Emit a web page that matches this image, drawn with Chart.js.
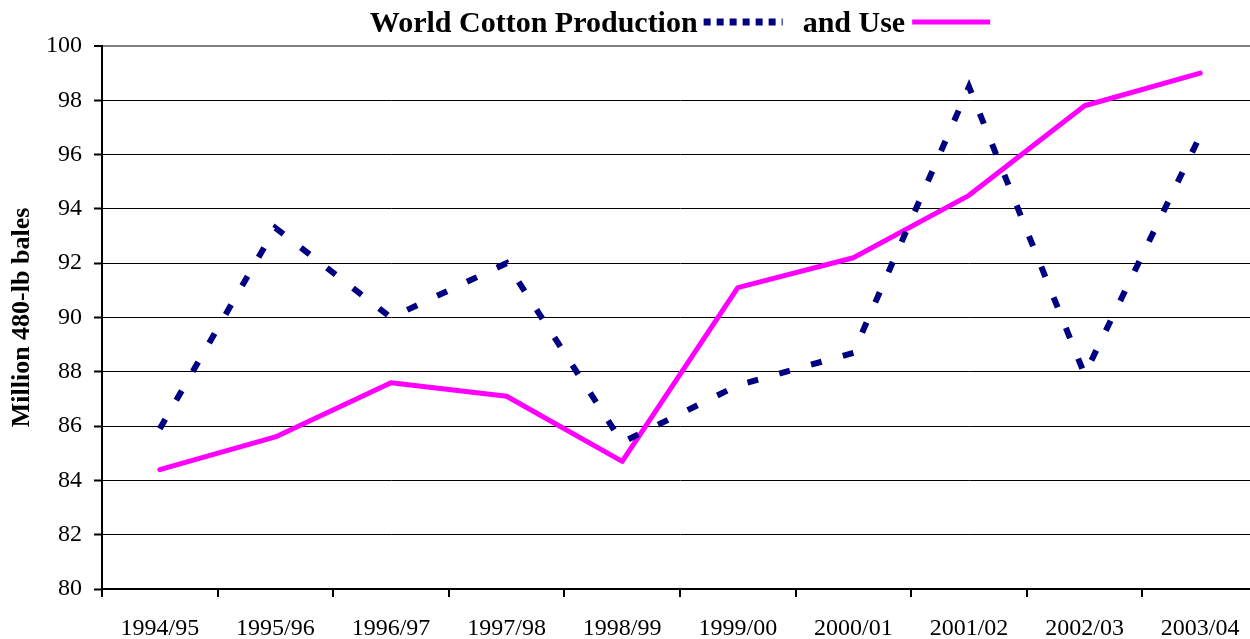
<!DOCTYPE html>
<html>
<head>
<meta charset="utf-8">
<script src="https://cdn.jsdelivr.net/npm/chart.js@4"></script>
<style>
  html, body { margin: 0; padding: 0; background: #fff; overflow: hidden; }
  #wrap { width: 1260px; height: 639px; position: relative; }
</style>
</head>
<body>
<div id="wrap"><canvas id="myChart"></canvas></div>
<script>
// season labels + values (million 480-lb bales)
const seasons = ['1994/95', '1995/96', '1996/97', '1997/98', '1998/99', '1999/00', '2000/01', '2001/02', '2002/03', '2003/04'];
const production = [85.9, 93.3, 90.0, 92.0, 85.4, 87.5, 88.7, 98.5, 87.9, 96.7];
const use = [84.4, 85.6, 87.6, 87.1, 84.7, 91.1, 92.2, 94.5, 97.8, 99.0];
const yTicks = [80, 82, 84, 86, 88, 90, 92, 94, 96, 98, 100];

const serif = '"Liberation Serif", "Times New Roman", serif';

// title with the legend samples inline, like the original
const titleLegend = {
    id: 'titleLegend',
    afterDraw(chart) {
        const ctx = chart.ctx;
        ctx.save();
        ctx.font = 'bold 30px ' + serif;
        ctx.fillStyle = '#000';
        ctx.textBaseline = 'alphabetic';
        const t1 = 'World Cotton Production';
        const t2 = 'and Use';
        const w1 = ctx.measureText(t1).width;
        const w2 = ctx.measureText(t2).width;
        const total = w1 + 6 + 79 + 20 + w2 + 7 + 78;
        let x = (chart.chartArea.left + chart.chartArea.right) / 2 - total / 2;
        const y = 32;
        ctx.fillText(t1, x, y);
        x += w1 + 6;
        ctx.strokeStyle = '#000080';
        ctx.lineWidth = 7;
        ctx.setLineDash([7, 6]);
        ctx.beginPath();
        ctx.moveTo(x, 22);
        ctx.lineTo(x + 79, 22);
        ctx.stroke();
        x += 79 + 20;
        ctx.fillText(t2, x, y);
        x += w2 + 7;
        ctx.setLineDash([]);
        ctx.strokeStyle = '#FF00FF';
        ctx.lineWidth = 5;
        ctx.beginPath();
        ctx.moveTo(x, 22);
        ctx.lineTo(x + 78, 22);
        ctx.stroke();
        ctx.restore();
    }
};

const ctx = document.getElementById('myChart').getContext('2d');

new Chart(ctx, {
    type: 'line',
    data: {
        labels: seasons,
        datasets: [{
            label: 'Production',
            data: production,
            borderColor: '#000080',
            borderWidth: 6,
            borderDash: [11, 22],
            borderCapStyle: 'butt',
            pointRadius: 0,
            tension: 0
        }, {
            label: 'Use',
            data: use,
            borderColor: '#FF00FF',
            borderWidth: 5,
            borderCapStyle: 'round',
            borderJoinStyle: 'round',
            pointRadius: 0,
            tension: 0
        }]
    },
    options: {
        responsive: true,
        maintainAspectRatio: false,
        animation: false,
        layout: { padding: { top: 46, right: 2, left: 0, bottom: 0 } },
        plugins: {
            legend: { display: false },
            title: { display: false },
            tooltip: { enabled: false }
        },
        scales: {
            x: {
                offset: true,
                grid: {
                    offset: true,
                    drawOnChartArea: false,
                    drawTicks: true,
                    tickLength: 8,
                    color: '#000',
                    lineWidth: 2
                },
                border: { color: '#000', width: 2 },
                ticks: {
                    color: '#000',
                    font: { family: serif, size: 24 },
                    padding: 17,
                    maxRotation: 0,
                    autoSkip: false
                },
                afterFit(scale) { scale.height = 50; }
            },
            y: {
                min: 80,
                max: 100,
                afterBuildTicks(scale) { scale.ticks = yTicks.map(v => ({ value: v })); },
                grid: {
                    color: ctx => ctx.tick && ctx.tick.value === 100 ? '#808080' : '#000',
                    lineWidth: ctx => ctx.tick && ctx.tick.value === 100 ? 2 : 1,
                    tickColor: '#000',
                    tickWidth: 2,
                    tickLength: 8
                },
                border: { color: '#000', width: 2 },
                ticks: {
                    color: '#000',
                    font: { family: serif, size: 24 },
                    padding: 12
                },
                title: {
                    display: true,
                    text: 'Million 480-lb bales',
                    color: '#000',
                    font: { family: serif, size: 26, weight: 'bold' },
                    padding: { top: 7, bottom: 4 }
                },
                afterFit(scale) { scale.width = 102; }
            }
        }
    },
    plugins: [titleLegend]
});
</script>
</body>
</html>
